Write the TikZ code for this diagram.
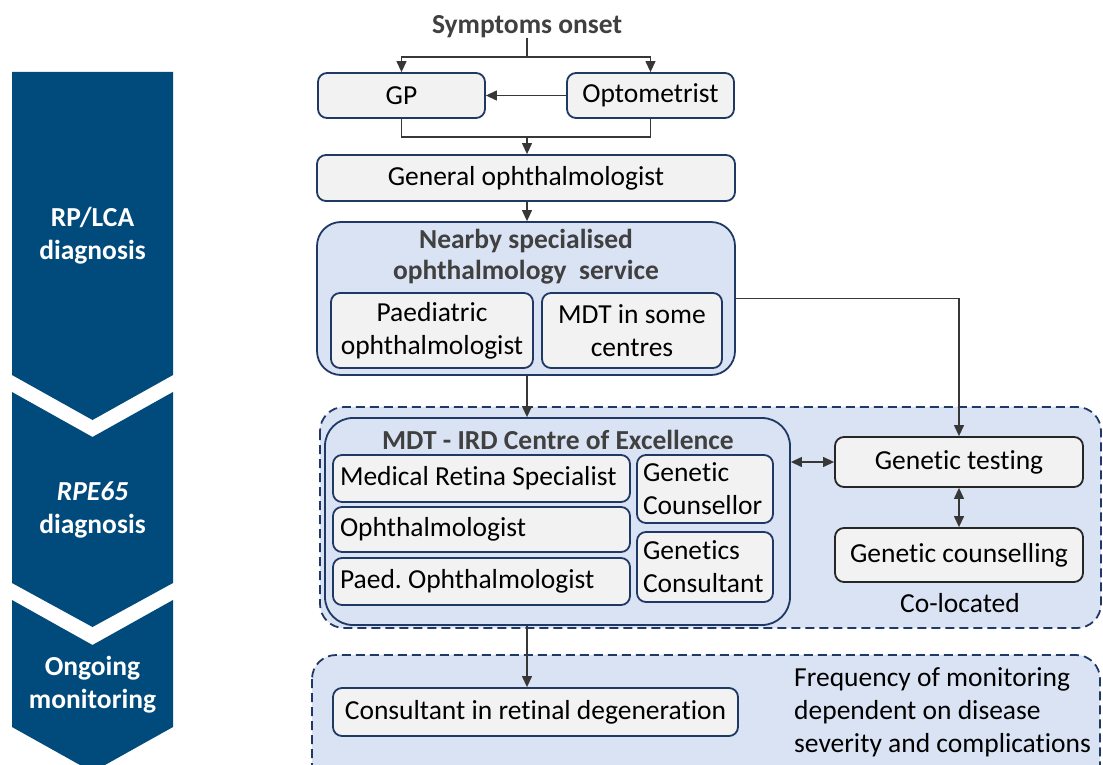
\documentclass[tikz,border=0pt]{standalone}
\usepackage{fontspec}
\setmainfont{Carlito}[Ligatures=NoCommon]
\usetikzlibrary{arrows.meta}
\definecolor{chev}{RGB}{0,74,124}
\definecolor{navy}{RGB}{31,56,100}
\definecolor{boxfill}{RGB}{242,242,242}
\definecolor{panel}{RGB}{218,227,243}
\definecolor{ttl}{RGB}{64,64,64}
\definecolor{wire}{RGB}{55,55,55}
\definecolor{dark}{RGB}{38,38,38}
\frenchspacing

\begin{document}
\begin{tikzpicture}[x=1pt,y=-1pt,
  every node/.style={font=\fontsize{27.5}{33}\selectfont, inner sep=0pt},
  cell/.style={draw=navy, fill=boxfill, line width=1.8pt, rounded corners=9pt, align=center},
  plaincell/.style={draw=dark, fill=boxfill, line width=1.8pt, rounded corners=9pt, align=center},
  group/.style={draw=navy, fill=panel, line width=1.8pt, rounded corners=24pt},
  dashgroup/.style={draw=navy, fill=panel, line width=1.8pt, rounded corners=24pt, dash pattern=on 9pt off 5pt},
  grouptitle/.style={font=\fontsize{27.5}{31}\selectfont\bfseries, text=ttl, align=center},
  stage/.style={font=\fontsize{27.5}{33}\selectfont\bfseries, text=white, align=center},
  wireline/.style={draw=wire, line width=1.2pt},
  arr/.style={wireline, -{Triangle[length=11pt,width=10pt]}},
  dbl/.style={wireline, {Triangle[length=11pt,width=10pt]}-{Triangle[length=11pt,width=10pt]}}
]
\useasboundingbox (0,0) rectangle (1103,765);
\clip (0,0) rectangle (1103,765);
\fill[white] (0,0) rectangle (1103,765);

% stage chevrons on the left
\fill[chev] (12,72) -- (173,72) -- (173,375) -- (92.5,420) -- (12,375) -- cycle;
\fill[chev] (12,392) -- (92.5,437) -- (173,392) -- (173,583) -- (92.5,627) -- (12,583) -- cycle;
\fill[chev] (12,600) -- (92.5,645) -- (173,600) -- (173,727) -- (92.5,772) -- (12,727) -- cycle;
\node[stage] (s1) at (92.5,236) {RP/LCA\\diagnosis};
\node[stage] (s2) at (92.5,510) {\textit{RPE65}\\diagnosis};
\node[stage] (s3) at (92.5,684.5) {Ongoing\\monitoring};

% dashed panels
\path[dashgroup] (320,407) rectangle (1101,628);
\path[dashgroup] (312,655) rectangle (1100,810);

% referral route
\node[grouptitle] (sym) at (527,27) {Symptoms onset};
\node[cell, minimum width=167pt, minimum height=45pt] (gp) at (401.5,95.5) {GP};
\node[cell, minimum width=167pt, minimum height=45pt] (opt) at (650.5,95.5) {Optometrist};
\node[cell, minimum width=418pt, minimum height=46pt] (genoph) at (526,178) {General ophthalmologist};

% nearby specialised service
\node[group, minimum width=418pt, minimum height=153pt] (nearby) at (526,298.5) {};
\node[grouptitle] (nearbyt) at (526,257) {Nearby specialised\\ophthalmology\ \ service};
\node[cell, minimum width=202pt, minimum height=75pt] (paed) at (432,330.5) {Paediatric\\ophthalmologist};
\node[cell, minimum width=180pt, minimum height=75pt] (mdtsome) at (632,330.5) {MDT in some\\centres};

% MDT centre of excellence
\node[group, minimum width=465pt, minimum height=207pt, rounded corners=28pt] (mdt) at (557.5,521.5) {};
\node[grouptitle] (mdtt) at (558,440) {MDT - IRD Centre of Excellence};
\node[cell, minimum width=297pt, minimum height=47pt, text width=283pt, align=flush left] (mrs) at (481.5,478.5) {Medical Retina Specialist};
\node[cell, minimum width=297pt, minimum height=45pt, text width=283pt, align=flush left] (oph) at (481.5,529.5) {Ophthalmologist};
\node[cell, minimum width=297pt, minimum height=47pt, text width=283pt, align=flush left] (paedoph) at (481.5,581.5) {Paed. Ophthalmologist};
\node[cell, minimum width=136pt, minimum height=68pt, text width=124pt, align=flush left] (gcoun) at (705,489) {Genetic\\Counsellor};
\node[cell, minimum width=136pt, minimum height=70pt, text width=124pt, align=flush left] (gcons) at (705,567) {Genetics\\Consultant};

% co-located genetics services
\node[plaincell, minimum width=248pt, minimum height=50pt] (gt) at (959,462) {Genetic testing};
\node[plaincell, minimum width=248pt, minimum height=54pt] (gcl) at (959,555) {Genetic counselling};
\node (coloc) at (960,603) {Co-located};

% ongoing monitoring
\node[cell, minimum width=405pt, minimum height=48pt] (cons) at (535.5,712) {Consultant in retinal degeneration};
\node[align=flush left, anchor=west] (freq) at (794,712) {Frequency of monitoring\\dependent on disease\\severity and complications};

% connectors
\coordinate (j1) at (527,57);
\coordinate (j2) at (527,137);
\draw[wireline] (sym) -- (j1);
\draw[arr] (j1) -| (gp.north);
\draw[arr] (j1) -| (opt.north);
\draw[arr] (opt.west) -- (gp.east);
\draw[wireline] (gp.south) |- (j2) -| (opt.south);
\draw[arr] (j2) -- (genoph.north -| j2);
\draw[arr] (genoph.south -| j2) -- (nearby.north -| j2);
\draw[arr] (nearby.east) -| (gt.north);
\draw[arr] (nearby.south -| j2) -- (mdt.north -| j2);
\draw[dbl] (gt.west -| mdt.east) -- (gt.west);
\draw[dbl] (gt.south) -- (gcl.north);
\draw[arr] (mdt.south -| j2) -- (cons.north -| j2);
\end{tikzpicture}
\end{document}
